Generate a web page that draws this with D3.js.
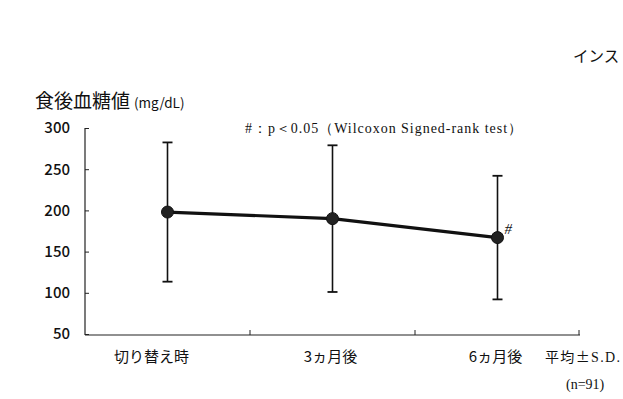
<!DOCTYPE html>
<meta charset="utf-8">
<style>
    body { margin: 0; background: #fff; }
    text { font-family: "Noto Sans CJK JP", "Noto Sans", sans-serif; fill: #111; }
    .serif { font-family: "Liberation Serif", "DejaVu Serif", serif; }
</style>
<svg width="623" height="399"></svg>
<script src="https://d3js.org/d3.v7.min.js"></script>
<script>

    var categories = ["切り替え時", "3ヵ月後", "6ヵ月後"];
    var means = [198, 190, 167];
    var sds = [84.5, 89, 75];
    var yTicks = [50, 100, 150, 200, 250, 300];

    var svg = d3.select("svg");

    var x = d3.scaleBand().domain(categories).range([85, 580]);
    var y = d3.scaleLinear().domain([50, 300]).range([334, 128]);

    // y axis
    var yAxis = svg.append("g")
        .attr("transform", "translate(85,0)")
        .call(d3.axisLeft(y).tickValues(yTicks).tickSize(-4).tickPadding(15));
    yAxis.select(".domain").attr("d", "M0,128V335").attr("stroke", "#222").attr("stroke-width", 1.2);
    yAxis.selectAll(".tick line").attr("stroke", "#222");
    yAxis.selectAll(".tick text")
        .attr("font-size", 15).attr("font-family", "Noto Sans, sans-serif").attr("font-weight", 500);

    // x axis
    var xAxis = svg.append("g")
        .attr("transform", "translate(0,335)");
    xAxis.append("line")
        .attr("x1", 85).attr("x2", 580).attr("stroke", "#222").attr("stroke-width", 1.2);
    xAxis.selectAll(".sep")
        .data(categories.slice(1).concat(["end"]))
        .enter().append("line")
        .attr("x1", function (d, i) { return i < 2 ? x(d) : 579; })
        .attr("x2", function (d, i) { return i < 2 ? x(d) : 579; })
        .attr("y1", 0).attr("y2", -5)
        .attr("stroke", "#222");
    xAxis.selectAll(".lab")
        .data(categories)
        .enter().append("text")
        .attr("x", function (d, i) { return x(d) + x.bandwidth() / 2 + (i === 0 ? -16 : -2); })
        .attr("y", 27)
        .attr("text-anchor", "middle")
        .attr("font-size", 15)
        .text(function (d) { return d; });

    var cx = function (i) { return x(categories[i]) + x.bandwidth() / 2; };

    // error bars
    var eb = svg.append("g").attr("stroke", "#111");
    means.forEach(function (m, i) {
        eb.append("line").attr("x1", cx(i)).attr("x2", cx(i))
            .attr("y1", y(m + sds[i])).attr("y2", y(m - sds[i])).attr("stroke-width", 1.6);
        [m + sds[i], m - sds[i]].forEach(function (v) {
            eb.append("line").attr("x1", cx(i) - 5).attr("x2", cx(i) + 5)
                .attr("y1", y(v)).attr("y2", y(v)).attr("stroke-width", 1.8);
        });
    });

    // mean line
    var line = d3.line()
        .x(function (d, i) { return cx(i); })
        .y(function (d) { return y(d); });
    svg.append("path").datum(means)
        .attr("d", line).attr("fill", "none").attr("stroke", "#111").attr("stroke-width", 3.2);

    svg.selectAll(".pt").data(means).enter().append("circle")
        .attr("cx", function (d, i) { return cx(i); })
        .attr("cy", function (d) { return y(d); })
        .attr("r", 6).attr("fill", "#222").attr("stroke", "#111");

    svg.append("text").attr("class", "serif")
        .attr("x", cx(2) + 7).attr("y", y(means[2]) - 4)
        .attr("font-size", 15).attr("font-style", "italic").text("#");

    // texts
    svg.append("text").attr("x", 35).attr("y", 108).attr("font-size", 19).text("食後血糖値")
        .append("tspan").attr("font-size", 13.5).attr("dx", 4).text("(mg/dL)");
    svg.append("text").attr("class", "serif").attr("x", 245).attr("y", 133)
        .attr("font-size", 14).attr("textLength", 277).attr("lengthAdjust", "spacing")
        .text("#：p＜0.05（Wilcoxon Signed-rank test）");
    svg.append("text").attr("x", 573).attr("y", 62).attr("font-size", 15.5).text("インス");
    svg.append("text").attr("x", 545).attr("y", 362).attr("font-size", 14)
        .attr("textLength", 75).attr("lengthAdjust", "spacing").text("平均±")
        .append("tspan").attr("font-family", "Liberation Serif, serif").text("S.D.");
    svg.append("text").attr("class", "serif").attr("x", 566).attr("y", 389)
        .attr("font-size", 14).text("(n=91)");

</script>
